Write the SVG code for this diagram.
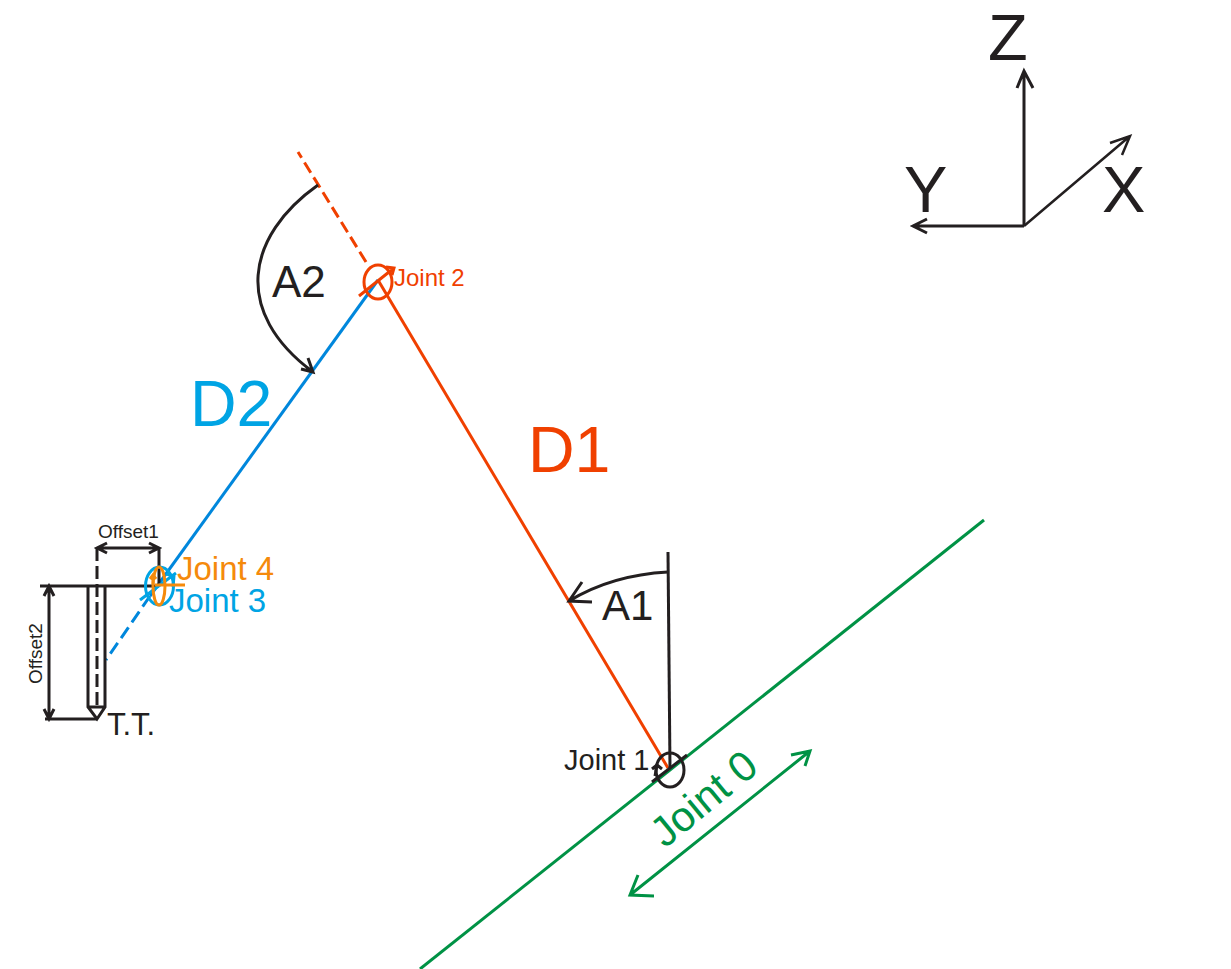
<svg xmlns="http://www.w3.org/2000/svg" width="1231" height="969" viewBox="0 0 1231 969">
<style>
text{font-family:"Liberation Sans",Arial,sans-serif}
.k{fill:none;stroke:#231f20;stroke-width:3}
.r{fill:none;stroke:#f04000;stroke-width:3}
.b{fill:none;stroke:#0087dc;stroke-width:3}
.c{fill:none;stroke:#00a4e4;stroke-width:3}
.o{fill:none;stroke:#f58a0b;stroke-width:3}
.g{fill:none;stroke:#009245;stroke-width:3}
.tk{fill:#231f20}.tr{fill:#f04000}.tc{fill:#00a4e4}.to{fill:#f58a0b}.tg{fill:#009245}
</style>
<rect width="1231" height="969" fill="#fff"/>
<g id="connectors">
<path class="g" d="M984 520L420 969"/>
<path class="g" d="M630 895L810 751M654 896L630 895L638 875M791 755L810 751L805 766"/>
<path class="r" d="M378 280L668 768"/>
<path class="r" d="M366 262L298 152" stroke-dasharray="12 5.5"/>
<path class="b" d="M378 280L150 596"/>
<path class="b" d="M150 596L106 660" stroke-dasharray="13 6"/>
<path class="k" d="M668 552L670 768"/>
<path class="k" d="M668 572C630 574 597 584 569 601M592 602L569 601L582 582"/>
<path class="k" d="M318 185C246 236 232 312 313 372M301 369L313 372L308 358"/>
<path class="k" d="M1024 226V71M1017 88L1024 71L1033 88"/>
<path class="k" d="M1024 226H913M927 219L913 226L927 233"/>
<path class="k" d="M1024 226L1130 136M1110 143L1130 136L1122 155" style="stroke-width:2.5"/>
</g>
<g id="tool">
<path class="k" d="M40 586H159"/>
<path class="k" d="M88 586V707L97 719L105 707V586M88 707H105"/>
<path class="k" d="M97 548V708" stroke-dasharray="13 5"/>
<path class="k" d="M97 548H159M107 543L97 548L107 553M149 543L159 548L149 553M159 547V586"/>
<path class="k" d="M49 586V719M44 596L49 586L54 596M44 709L49 719L54 709M45 719H97"/>
</g>
<g id="joint0"><text class="tg" font-size="42" transform="translate(665 849) rotate(-39.5)">Joint 0</text></g>
<g id="joint1">
<ellipse class="k" cx="670" cy="770" rx="14" ry="17"/>
<path class="k" d="M652 782L687 755M655 776L657 765M652 769L657 765L662 769"/>
<text class="tk" x="564" y="770" font-size="29">Joint 1</text>
</g>
<g id="joint2">
<ellipse class="r" cx="378" cy="282" rx="14" ry="17"/>
<path class="r" d="M359 296L394 268M386 267L394 268L392 275"/>
<text class="tr" x="394" y="286" font-size="24">Joint 2</text>
</g>
<g id="joint3">
<ellipse class="c" cx="159.500" cy="586" rx="14" ry="19"/>
<path class="c" d="M140 600L176 573M166 574L174 576L173 587"/>
<text class="tc" x="169" y="612" font-size="33">Joint 3</text>
</g>
<g id="joint4">
<ellipse class="o" cx="159" cy="586" rx="6" ry="19"/>
<path class="o" d="M155 585H185M153 584V575M150 579L153 575L156 579"/>
<text class="to" x="177" y="580" font-size="33">Joint 4</text>
</g>
<g id="labels">
<text class="tc" x="190" y="426" font-size="64.500">D2</text>
<text class="tr" x="528" y="472" font-size="64.500">D1</text>
<text class="tk" x="272" y="297" font-size="44">A2</text>
<text class="tk" x="602" y="620" font-size="42">A1</text>
<text class="tk" x="988" y="60" font-size="65">Z</text>
<text class="tk" x="904" y="212" font-size="65">Y</text>
<text class="tk" x="1102" y="212" font-size="65">X</text>
<text class="tk" x="107" y="735" font-size="31">T.T.</text>
<text class="tk" x="98" y="538" font-size="19">Offset1</text>
<text class="tk" font-size="19" transform="translate(42 684) rotate(-90)">Offset2</text>
</g>
</svg>
